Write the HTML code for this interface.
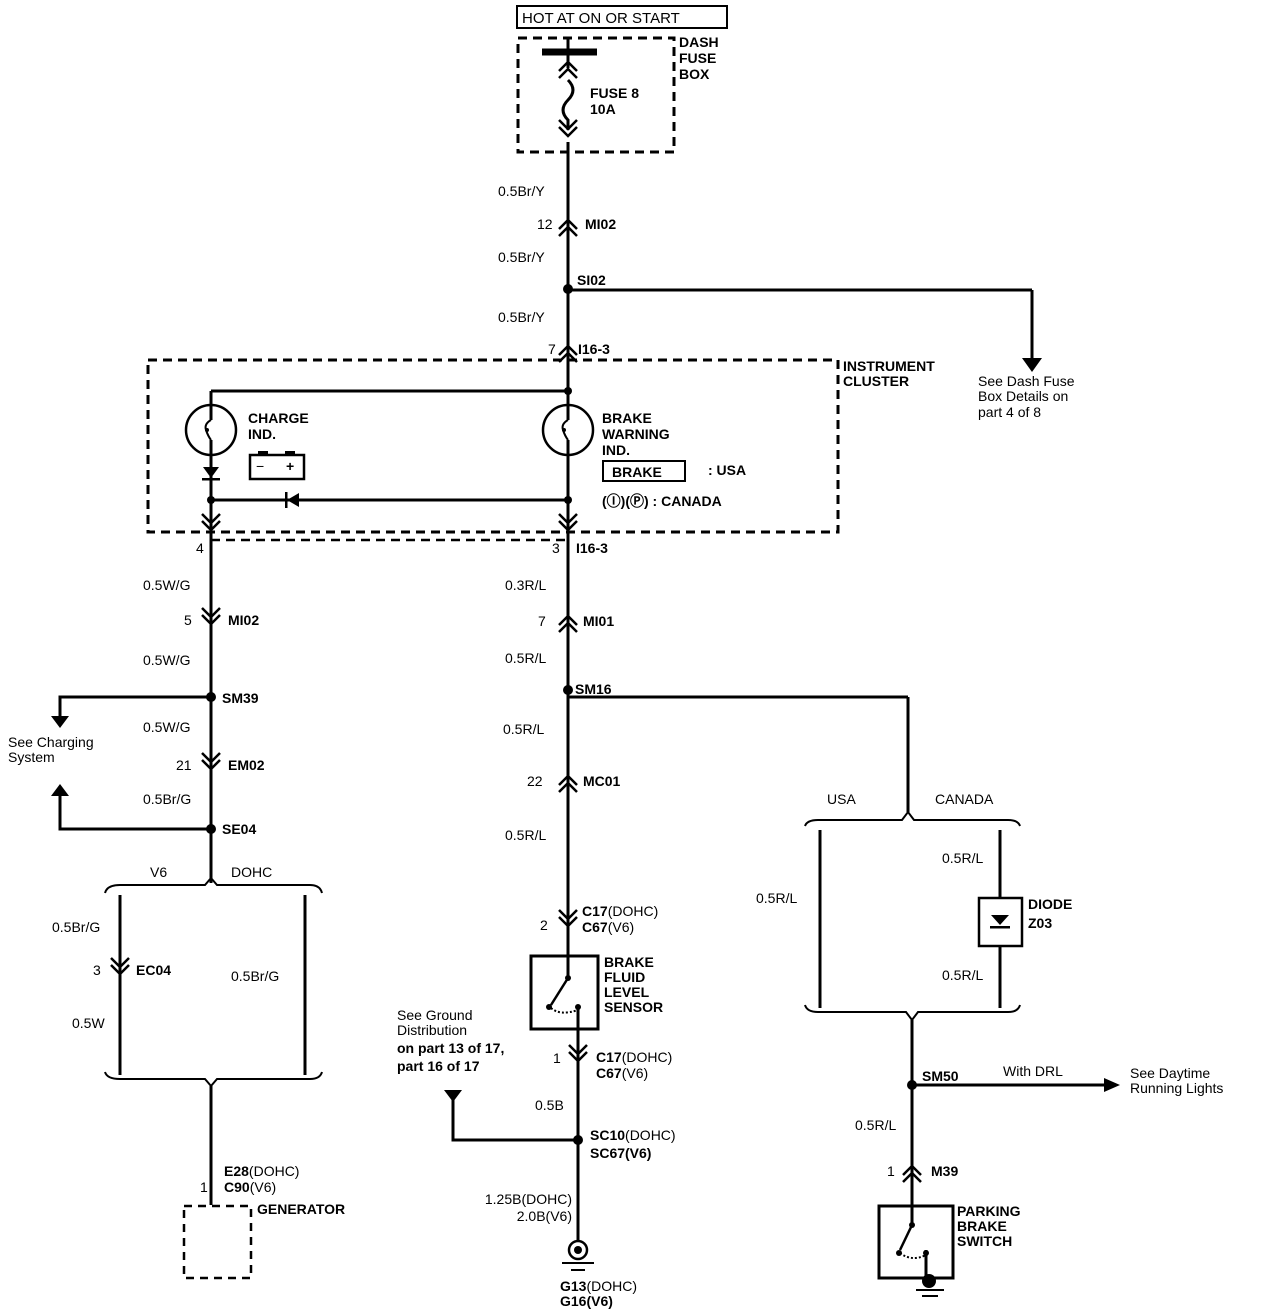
<!DOCTYPE html>
<html><head><meta charset="utf-8"><style>
html,body{margin:0;padding:0;background:#fff}
svg{display:block}
text{font-family:"Liberation Sans",sans-serif;font-weight:bold;font-size:14px;fill:#000}
.n{font-weight:normal}
</style></head><body>
<svg width="1264" height="1316" viewBox="0 0 1264 1316" xmlns="http://www.w3.org/2000/svg">
<defs>
<path id="cu" d="M-9 5 L0 -4 L9 5 M-9 12 L0 3 L9 12" fill="none" stroke="#000" stroke-width="2.5"/>
<path id="cd" d="M-9 -5 L0 4 L9 -5 M-9 -12 L0 -3 L9 -12" fill="none" stroke="#000" stroke-width="2.5"/>
</defs>
<g stroke="#000" stroke-width="3" fill="none">
<rect x="517" y="6" width="210" height="22" stroke-width="2"/>
<rect x="518" y="38" width="156" height="114" stroke-dasharray="9,6"/>
<line x1="568" y1="38" x2="568" y2="68"/>
<line x1="542" y1="52" x2="597" y2="52" stroke-width="7"/>
<path d="M568 80 Q578 90 568 100 Q558 110 568 120 L568 130"/>
<line x1="568" y1="142" x2="568" y2="360"/>
<line x1="568" y1="290" x2="1032" y2="290"/>
<line x1="1032" y1="290" x2="1032" y2="360"/>
<rect x="148" y="360" width="690" height="172" stroke-dasharray="9,6"/>
<polyline points="211,540 568,540" stroke-dasharray="9,6" stroke-width="2.5"/>
<line x1="211" y1="391" x2="568" y2="391"/>
<line x1="211" y1="391" x2="211" y2="420"/>
<line x1="211" y1="440" x2="211" y2="883"/>
<line x1="568" y1="360" x2="568" y2="420"/>
<line x1="568" y1="440" x2="568" y2="950"/>
<path d="M211 420 Q204 424 206 430 Q208 436 211 440" stroke-width="2"/>
<path d="M568 420 Q561 424 563 430 Q565 436 568 440" stroke-width="2"/>
<circle cx="211" cy="430" r="25" stroke-width="2.5"/>
<circle cx="568" cy="430" r="25" stroke-width="2.5"/>
<line x1="211" y1="500" x2="568" y2="500"/>
<rect x="250" y="455" width="54" height="24" stroke-width="2.5"/>
<polyline points="211,697 60,697 60,718"/>
<polyline points="211,829 60,829 60,795"/>
<path d="M105 893 Q107 885 120 885 L205 885 L211 878 L217 885 L310 885 Q320 885 322 893" stroke-width="2"/>
<line x1="120" y1="895" x2="120" y2="1075"/>
<line x1="305" y1="895" x2="305" y2="1075"/>
<path d="M105 1072 Q107 1079 120 1079 L205 1079 L211 1086 L217 1079 L310 1079 Q320 1079 322 1072" stroke-width="2"/>
<line x1="211" y1="1086" x2="211" y2="1205"/>
<rect x="184" y="1206" width="67" height="72" stroke-dasharray="8,6" stroke-width="2.5"/>
<line x1="568" y1="697" x2="908" y2="697"/>
<line x1="908" y1="697" x2="908" y2="812"/>
<rect x="531" y="956" width="67" height="73" stroke-width="3"/>
<line x1="568" y1="978" x2="551" y2="1005" stroke-width="2.5"/>
<path d="M551 1008 Q560 1016 578 1010" stroke-width="2" stroke-dasharray="2,2"/>
<line x1="578" y1="1005" x2="578" y2="1241"/>
<line x1="568" y1="940" x2="568" y2="978"/>
<polyline points="578,1140 453,1140 453,1098"/>
<path d="M805 826 Q807 820 818 820 L902 820 L908 812 L914 820 L1008 820 Q1018 820 1020 826" stroke-width="2"/>
<line x1="820" y1="830" x2="820" y2="1008"/>
<line x1="1000" y1="830" x2="1000" y2="898"/>
<line x1="1000" y1="945" x2="1000" y2="1008"/>
<rect x="979" y="898" width="43" height="48" stroke-width="2.5"/>
<path d="M805 1005 Q807 1012 818 1012 L906 1012 L912 1020 L918 1012 L1008 1012 Q1018 1012 1020 1005" stroke-width="2"/>
<line x1="912" y1="1020" x2="912" y2="1225"/>
<line x1="912" y1="1085" x2="1106" y2="1085"/>
<rect x="879" y="1206" width="74" height="72" stroke-width="3"/>
<line x1="912" y1="1225" x2="900" y2="1250" stroke-width="2.5"/>
<path d="M900 1253 Q912 1262 926 1255" stroke-width="2" stroke-dasharray="2,2"/>
<line x1="926" y1="1250" x2="926" y2="1280"/>
<line x1="916" y1="1290" x2="944" y2="1290" stroke-width="2"/>
<line x1="922" y1="1296" x2="938" y2="1296" stroke-width="2"/>
<circle cx="578" cy="1250" r="9" stroke-width="2.5"/>
<line x1="562" y1="1263" x2="594" y2="1263" stroke-width="2"/>
<line x1="571" y1="1270" x2="585" y2="1270" stroke-width="2"/>
</g>
<g fill="#000">
<circle cx="578" cy="1250" r="4"/>
<circle cx="929" cy="1281" r="7"/>
<circle cx="568" cy="289" r="5"/><circle cx="568" cy="391" r="4"/>
<circle cx="211" cy="500" r="4"/><circle cx="568" cy="500" r="4"/>
<circle cx="211" cy="697" r="5"/><circle cx="211" cy="829" r="5"/>
<circle cx="568" cy="690" r="5"/><circle cx="578" cy="1140" r="5"/>
<circle cx="912" cy="1085" r="5"/>
<circle cx="568" cy="978" r="3"/><circle cx="549" cy="1007" r="3"/><circle cx="578" cy="1007" r="3"/>
<circle cx="912" cy="1225" r="3"/><circle cx="899" cy="1253" r="3"/><circle cx="926" cy="1253" r="3"/>
<circle cx="207" cy="430" r="2"/><circle cx="564" cy="430" r="2"/>
<polygon points="1022,358 1042,358 1032,372"/>
<polygon points="51,716 69,716 60,728"/>
<polygon points="51,796 69,796 60,784"/>
<polygon points="444,1090 462,1090 453,1102"/>
<polygon points="1104,1078 1104,1092 1120,1085"/>
<polygon points="203,467 219,467 211,478"/><rect x="202" y="478" width="18" height="2.5"/>
<polygon points="299,493 299,507 287,500"/><rect x="285" y="492" width="2.5" height="16"/>
<polygon points="991,915 1009,915 1000,925"/><rect x="990" y="926" width="20" height="2.5"/>
<rect x="258" y="451" width="10" height="4"/><rect x="285" y="451" width="10" height="4"/>
</g>
<g>
<use href="#cu" x="568" y="66"/><use href="#cd" x="568" y="132"/>
<use href="#cu" x="568" y="224"/><use href="#cu" x="568" y="350"/>
<use href="#cd" x="211" y="526"/><use href="#cd" x="568" y="526"/>
<use href="#cd" x="211" y="620"/><use href="#cu" x="568" y="620"/>
<use href="#cd" x="211" y="765"/><use href="#cu" x="568" y="780"/>
<use href="#cd" x="120" y="970"/><use href="#cd" x="568" y="922"/>
<use href="#cd" x="578" y="1057"/><use href="#cu" x="912" y="1170"/>
</g>
<g>
<text x="522" y="23" class="n" style="font-size:15px">HOT AT ON OR START</text>
<text x="679" y="47">DASH</text><text x="679" y="63">FUSE</text><text x="679" y="79">BOX</text>
<text x="590" y="98">FUSE 8</text><text x="590" y="114">10A</text>
<text x="498" y="196" class="n">0.5Br/Y</text>
<text x="537" y="229" class="n">12</text><text x="585" y="229">MI02</text>
<text x="498" y="262" class="n">0.5Br/Y</text>
<text x="577" y="285">SI02</text>
<text x="498" y="322" class="n">0.5Br/Y</text>
<text x="548" y="354" class="n">7</text><text x="578" y="354">I16-3</text>
<text x="843" y="371">INSTRUMENT</text><text x="843" y="386">CLUSTER</text>
<text x="978" y="386" class="n">See Dash Fuse</text><text x="978" y="401" class="n">Box Details on</text><text x="978" y="417" class="n">part 4 of 8</text>
<text x="248" y="423">CHARGE</text><text x="248" y="439">IND.</text>
<text x="256" y="471" class="n">−</text><text x="286" y="471">+</text>
<text x="602" y="423">BRAKE</text><text x="602" y="439">WARNING</text><text x="602" y="455">IND.</text>
<rect x="603" y="461" width="82" height="20" fill="none" stroke="#000" stroke-width="2"/>
<text x="612" y="477">BRAKE</text><text x="708" y="475">: USA</text>
<text x="602" y="506">(<tspan>Ⓘ</tspan>)(<tspan>Ⓟ</tspan>) : CANADA</text>
<text x="196" y="553" class="n">4</text>
<text x="552" y="553" class="n">3</text><text x="576" y="553">I16-3</text>
<text x="143" y="590" class="n">0.5W/G</text>
<text x="184" y="625" class="n">5</text><text x="228" y="625">MI02</text>
<text x="143" y="665" class="n">0.5W/G</text>
<text x="222" y="703">SM39</text>
<text x="8" y="747" class="n">See Charging</text><text x="8" y="762" class="n">System</text>
<text x="143" y="732" class="n">0.5W/G</text>
<text x="176" y="770" class="n">21</text><text x="228" y="770">EM02</text>
<text x="143" y="804" class="n">0.5Br/G</text>
<text x="222" y="834">SE04</text>
<text x="150" y="877" class="n">V6</text><text x="231" y="877" class="n">DOHC</text>
<text x="52" y="932" class="n">0.5Br/G</text>
<text x="93" y="975" class="n">3</text><text x="136" y="975">EC04</text>
<text x="72" y="1028" class="n">0.5W</text>
<text x="231" y="981" class="n">0.5Br/G</text>
<text x="224" y="1176">E28<tspan class="n">(DOHC)</tspan></text>
<text x="200" y="1192" class="n">1</text><text x="224" y="1192">C90<tspan class="n">(V6)</tspan></text>
<text x="257" y="1214">GENERATOR</text>
<text x="505" y="590" class="n">0.3R/L</text>
<text x="538" y="626" class="n">7</text><text x="583" y="626">MI01</text>
<text x="505" y="663" class="n">0.5R/L</text>
<text x="575" y="694">SM16</text>
<text x="503" y="734" class="n">0.5R/L</text>
<text x="527" y="786" class="n">22</text><text x="583" y="786">MC01</text>
<text x="505" y="840" class="n">0.5R/L</text>
<text x="582" y="916">C17<tspan class="n">(DOHC)</tspan></text>
<text x="540" y="930" class="n">2</text><text x="582" y="932">C67<tspan class="n">(V6)</tspan></text>
<text x="604" y="967">BRAKE</text><text x="604" y="982">FLUID</text><text x="604" y="997">LEVEL</text><text x="604" y="1012">SENSOR</text>
<text x="397" y="1020" class="n">See Ground</text><text x="397" y="1035" class="n">Distribution</text>
<text x="397" y="1053">on part 13 of 17,</text><text x="397" y="1071">part 16 of 17</text>
<text x="553" y="1063" class="n">1</text><text x="596" y="1062">C17<tspan class="n">(DOHC)</tspan></text>
<text x="596" y="1078">C67<tspan class="n">(V6)</tspan></text>
<text x="535" y="1110" class="n">0.5B</text>
<text x="590" y="1140">SC10<tspan class="n">(DOHC)</tspan></text><text x="590" y="1158">SC67(V6)</text>
<text x="572" y="1204" class="n" text-anchor="end">1.25B(DOHC)</text>
<text x="572" y="1221" class="n" text-anchor="end">2.0B(V6)</text>
<text x="560" y="1291">G13<tspan class="n">(DOHC)</tspan></text><text x="560" y="1306">G16(V6)</text>
<text x="827" y="804" class="n">USA</text><text x="935" y="804" class="n">CANADA</text>
<text x="942" y="863" class="n">0.5R/L</text>
<text x="756" y="903" class="n">0.5R/L</text>
<text x="1028" y="909">DIODE</text><text x="1028" y="928">Z03</text>
<text x="942" y="980" class="n">0.5R/L</text>
<text x="922" y="1081">SM50</text>
<text x="1003" y="1076" class="n">With DRL</text>
<text x="1130" y="1078" class="n">See Daytime</text><text x="1130" y="1093" class="n">Running Lights</text>
<text x="855" y="1130" class="n">0.5R/L</text>
<text x="887" y="1176" class="n">1</text><text x="931" y="1176">M39</text>
<text x="957" y="1216">PARKING</text><text x="957" y="1231">BRAKE</text><text x="957" y="1246">SWITCH</text>
</g>
</svg>
</body></html>
